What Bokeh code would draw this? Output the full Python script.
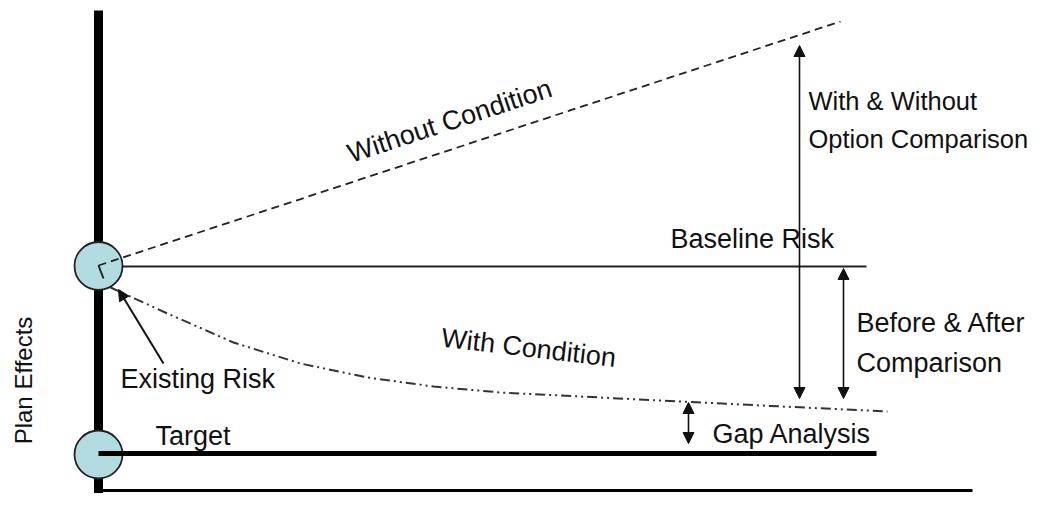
from bokeh.plotting import figure
from bokeh.models import Range1d, ColumnDataSource, Arrow, NormalHead
from bokeh.core.properties import value
from bokeh.embed import file_html
from bokeh.resources import INLINE

# ---- data (x: time position, y: plan effect level) ----
axis_x = [98, 98]
axis_y = [499, 0]
floor_x = [98, 972]
floor_y = [19, 19]

baseline_x = [98, 866]
baseline_y = [243, 243]
target_x = [98, 876]
target_y = [56, 56]

node_x = [98, 98]
node_y = [243.5, 55]

without_x = [98, 840]
without_y = [244, 488]
tick_x = [98, 103]
tick_y = [244, 231]

with_x = [110, 167, 233, 300, 367, 433, 500, 580, 680, 760, 887]
with_y = [222, 196, 167, 146, 132, 123, 117, 113, 108, 104, 98]

cmp_x0 = [799, 843, 688]
cmp_y0 = [464, 241, 107]
cmp_x1 = [799, 843, 688]
cmp_y1 = [111, 111, 66]

exist_x0 = [163]
exist_y0 = [146]
exist_x1 = [118]
exist_y1 = [220]

labels = ["Without Condition", "Baseline Risk", "Before & After", "Comparison",
          "With Condition", "Existing Risk", "Target", "Gap Analysis"]
label_x = [348, 670, 856, 856, 441, 120, 155, 712]
label_y = [355, 271, 187, 147, 172, 131, 74, 76]
label_angle = [18.3, 0, 0, 0, -6.7, 0, 0, 0]

option_labels = ["With & Without", "Option Comparison"]
option_x = [808, 808]
option_y = [409, 371]

ylabel = ["Plan Effects"]
ylabel_x = [23]
ylabel_y = [129]

INK = "#111111"
FONT = value("Liberation Sans")

p = figure(width=1033, height=493, output_backend="svg", toolbar_location=None,
           x_range=Range1d(0, 1033), y_range=Range1d(16, 509),
           min_border=0, outline_line_color=None)
p.axis.visible = False
p.grid.visible = False

p.line(axis_x, axis_y, line_width=9, line_color="black")
p.line(floor_x, floor_y, line_width=3, line_color="black")
p.line(baseline_x, baseline_y, line_width=2, line_color="#222222")
p.circle(node_x, node_y, radius=24, fill_color="#b2dce0", line_color="#222222", line_width=1.8)
p.line(target_x, target_y, line_width=5, line_color="black")
p.line(without_x, without_y, line_width=1.8, line_color="#222222", line_dash="8 5")
p.line(tick_x, tick_y, line_width=2, line_color="#222222")
p.line(with_x, with_y, line_width=2, line_color="#333333", line_dash="10 4 2 4 2 4")

cmp_src = ColumnDataSource(dict(x0=cmp_x0, y0=cmp_y0, x1=cmp_x1, y1=cmp_y1))
p.add_layout(Arrow(source=cmp_src, x_start="x0", y_start="y0", x_end="x1", y_end="y1",
                   line_width=1.6, line_color="#111111",
                   start=NormalHead(size=11, fill_color="#111111", line_color="#111111"),
                   end=NormalHead(size=11, fill_color="#111111", line_color="#111111")))

ex_src = ColumnDataSource(dict(x0=exist_x0, y0=exist_y0, x1=exist_x1, y1=exist_y1))
p.add_layout(Arrow(source=ex_src, x_start="x0", y_start="y0", x_end="x1", y_end="y1",
                   line_width=2, line_color="#111111",
                   end=NormalHead(size=11, fill_color="#111111", line_color="#111111")))

lab_src = ColumnDataSource(dict(x=label_x, y=label_y, text=labels, angle=label_angle))
p.text(x="x", y="y", text="text", angle="angle", angle_units="deg", source=lab_src,
       text_font=FONT, text_font_size="27px", text_color=INK,
       text_align="left", text_baseline="alphabetic")

p.text(x=option_x, y=option_y, text=option_labels,
       text_font=FONT, text_font_size="25.5px", text_color=INK,
       text_align="left", text_baseline="alphabetic")

p.text(x=ylabel_x, y=ylabel_y, text=ylabel, angle=90, angle_units="deg",
       text_font=FONT, text_font_size="24px", text_color=INK,
       text_align="center", text_baseline="alphabetic")

open("out.html", "w").write(file_html(p, INLINE))
